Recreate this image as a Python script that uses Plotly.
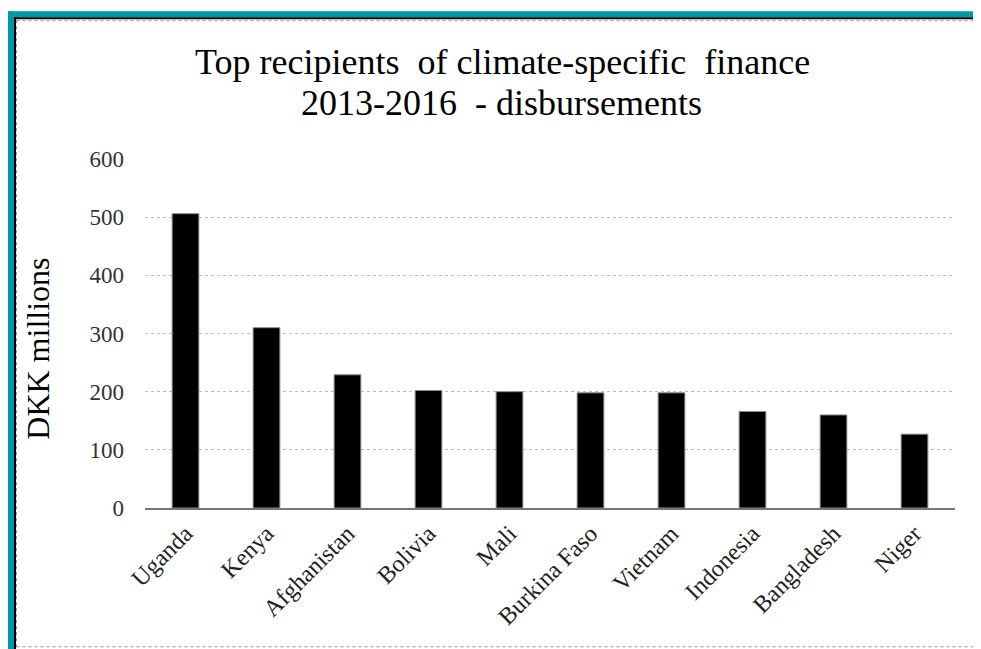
import plotly.graph_objects as go

countries = ["Uganda", "Kenya", "Afghanistan", "Bolivia", "Mali",
             "Burkina Faso", "Vietnam", "Indonesia", "Bangladesh", "Niger"]
dkk_millions = [506, 310, 229, 202, 200, 198, 198, 166, 160, 127]
y_ticks = [0, 100, 200, 300, 400, 500, 600]
title_lines = ["Top recipients  of climate-specific  finance", "2013-2016  - disbursements"]
y_title = "DKK millions"

SERIF = "Liberation Serif, Times New Roman, serif"

# the page body has an 8px margin, so work in figure pixels (screen - 8)
W, H = 973, 641
L, R, T, B = 137, 947, 151, 500.5


def px(x):
    return (x - L) / (R - L)


def py(y):
    return (B - y) / (B - T)


fig = go.Figure(go.Bar(
    x=countries, y=dkk_millions,
    marker=dict(color="black", line=dict(color="#8c8c8c", width=1)),
    width=0.33,
))

# frame around the picture: teal, black, dotted grey
frame = [
    dict(type="rect", x0=px(-2), x1=px(6), y0=py(3), y1=py(H + 5), fillcolor="#0097a7"),
    dict(type="rect", x0=px(-2), x1=px(W + 5), y0=py(3), y1=py(9), fillcolor="#0097a7"),
    dict(type="rect", x0=px(6), x1=px(8), y0=py(9), y1=py(H + 5), fillcolor="black"),
    dict(type="rect", x0=px(6), x1=px(W + 5), y0=py(9), y1=py(11), fillcolor="black"),
]
shapes = [dict(s, xref="paper", yref="paper", line=dict(width=0), layer="above") for s in frame]
for a in [dict(x0=px(8.5), x1=px(8.5), y0=py(12), y1=py(H)),
          dict(x0=px(8.5), x1=px(W), y0=py(12.5), y1=py(12.5)),
          dict(x0=px(8.5), x1=px(W), y0=py(639.5), y1=py(639.5))]:
    shapes.append(dict(type="line", xref="paper", yref="paper",
                       line=dict(color="#9a9a9a", width=1, dash="dot"), **a))

annotations = [
    dict(text=title_lines[0], x=px(494.5), y=py(54), xref="paper", yref="paper",
         xanchor="center", yanchor="middle", showarrow=False,
         font=dict(family=SERIF, size=36, color="black")),
    dict(text=title_lines[1], x=px(493), y=py(95), xref="paper", yref="paper",
         xanchor="center", yanchor="middle", showarrow=False,
         font=dict(family=SERIF, size=36, color="black")),
    dict(text=y_title, x=px(30), y=py(341), xref="paper", yref="paper",
         xanchor="center", yanchor="middle", showarrow=False, textangle=-90,
         font=dict(family=SERIF, size=32, color="black")),
]

fig.update_layout(
    width=W, height=H,
    margin=dict(l=L, r=W - R, t=T, b=H - B, autoexpand=False),
    plot_bgcolor="white", paper_bgcolor="white",
    font=dict(family=SERIF, color="#222"),
    shapes=shapes, annotations=annotations,
    showlegend=False,
)
fig.update_yaxes(
    range=[0, 600], tickvals=y_ticks, showgrid=True, gridcolor="#bdbdbd",
    griddash="dot", gridwidth=1, zeroline=False,
    tickfont=dict(family=SERIF, size=23, color="#333"), ticklabelstandoff=20,
)
fig.update_xaxes(
    tickangle=-45, tickfont=dict(family=SERIF, size=24, color="#222"),
    showline=True, linecolor="#777", linewidth=2, ticks="",
)

fig.write_html("out.html")
